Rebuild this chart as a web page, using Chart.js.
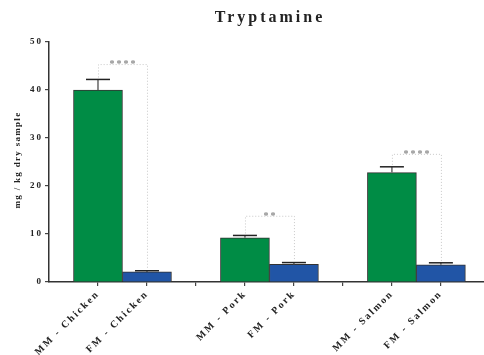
<!DOCTYPE html>
<html>
<head>
<meta charset="utf-8">
<script src="https://cdn.jsdelivr.net/npm/chart.js@4.4.1/dist/chart.umd.min.js"></script>
<style>
  html, body { margin: 0; padding: 0; background: #fff; }
  #wrap { width: 484px; height: 355px; position: relative; }
</style>
</head>
<body>
<div id="wrap"><canvas id="c"></canvas></div>
<script>
// Group labels along the x axis (empty strings are spacer slots)
const categories = ["MM - Chicken", "FM - Chicken", "", "MM - Pork", "FM - Pork", "", "MM - Salmon", "FM - Salmon"];
// Mean tryptamine content (mg/kg dry sample), null for spacer slots
const means = [40.0, 2.1, null, 9.2, 3.7, null, 22.8, 3.6];
// Standard deviation shown as upward error bars
const errors = [2.2, 0.25, null, 0.5, 0.35, null, 1.2, 0.4];
// Bar fill per slot: green for MM, blue for FM
const barColors = ["#008c45", "#2155a6", null, "#008c45", "#2155a6", null, "#008c45", "#2155a6"];
// Significance comparisons (1-based slot positions), bracket heights and marks
const bracketPairs = [[1, 2], [4, 5], [7, 8]];
const bracketLevels = [45.4, 13.8, 26.7];
const bracketMarks = ["****", "**", "****"];
const yTicks = [0, 10, 20, 30, 40, 50];

const serif = "'Liberation Serif', 'Times New Roman', serif";

const points = [];
const fills = [];
means.forEach((v, i) => {
  if (v !== null) { points.push({ x: i + 1, y: v }); fills.push(barColors[i]); }
});

const spacingPlugin = {
  id: 'spacing',
  beforeUpdate(chart) { chart.ctx.letterSpacing = '2px'; },
  beforeDraw(chart) { chart.ctx.letterSpacing = '2px'; }
};

// chart title and rotated y-axis title
const titlePlugin = {
  id: 'plotTitles',
  afterDraw(chart) {
    const ctx = chart.ctx;
    ctx.save();
    ctx.letterSpacing = '3px';
    ctx.font = "bold 16px " + serif;
    ctx.fillStyle = '#222';
    ctx.textAlign = 'center';
    ctx.textBaseline = 'alphabetic';
    ctx.fillText('Tryptamine', 270, 22);
    ctx.restore();

    ctx.save();
    ctx.letterSpacing = '1.3px';
    ctx.font = "bold 9px " + serif;
    ctx.fillStyle = '#222';
    ctx.textAlign = 'center';
    ctx.textBaseline = 'middle';
    ctx.translate(18, 160);
    ctx.rotate(-Math.PI / 2);
    ctx.fillText('mg / kg dry sample', 0, 0);
    ctx.restore();
  }
};

const errorPlugin = {
  id: 'errorBars',
  afterDatasetsDraw(chart) {
    const ctx = chart.ctx;
    const xs = chart.scales.x, ys = chart.scales.y;
    ctx.save();
    means.forEach((v, i) => {
      if (v === null) return;
      const x = xs.getPixelForValue(i + 1);
      const yTop = ys.getPixelForValue(v);
      const yErr = ys.getPixelForValue(v + errors[i]);
      ctx.strokeStyle = '#666';
      ctx.lineWidth = 1.5;
      ctx.beginPath();
      ctx.moveTo(x, yTop);
      ctx.lineTo(x, yErr);
      ctx.stroke();
      ctx.strokeStyle = '#222';
      ctx.lineWidth = 1.5;
      ctx.beginPath();
      ctx.moveTo(x - 12, yErr);
      ctx.lineTo(x + 12, yErr);
      ctx.stroke();
    });
    // significance brackets
    ctx.setLineDash([1, 2]);
    ctx.strokeStyle = '#c8c8c8';
    ctx.lineWidth = 1;
    bracketPairs.forEach((p, k) => {
      const xa = xs.getPixelForValue(p[0]);
      const xb = xs.getPixelForValue(p[1]);
      const yl = ys.getPixelForValue(bracketLevels[k]);
      const ya = ys.getPixelForValue(means[p[0] - 1] + errors[p[0] - 1]) - 2;
      const yb = ys.getPixelForValue(means[p[1] - 1] + errors[p[1] - 1]) - 2;
      ctx.beginPath();
      ctx.moveTo(xa + 0.5, ya);
      ctx.lineTo(xa + 0.5, yl + 0.5);
      ctx.lineTo(xb + 0.5, yl + 0.5);
      ctx.lineTo(xb + 0.5, yb);
      ctx.stroke();
    });
    ctx.setLineDash([]);
    ctx.fillStyle = '#888';
    ctx.font = "bold 10px " + serif;
    ctx.letterSpacing = '2px';
    ctx.textAlign = 'center';
    ctx.textBaseline = 'alphabetic';
    bracketPairs.forEach((p, k) => {
      const xm = (xs.getPixelForValue(p[0]) + xs.getPixelForValue(p[1])) / 2;
      const yl = ys.getPixelForValue(bracketLevels[k]);
      ctx.fillText(bracketMarks[k], xm + 1, yl + 3);
    });
    ctx.restore();
  }
};

new Chart(document.getElementById('c'), {
  type: 'bar',
  data: {
    datasets: [{
      data: points,
      backgroundColor: fills,
      borderColor: '#333',
      borderWidth: 1,
      barPercentage: 1,
      categoryPercentage: 1
    }]
  },
  options: {
    responsive: true,
    maintainAspectRatio: false,
    animation: false,
    layout: { padding: { top: 42, left: 0, right: 0, bottom: 0 } },
    plugins: {
      legend: { display: false },
      title: { display: false },
      tooltip: { enabled: false }
    },
    scales: {
      x: {
        type: 'linear',
        offset: false,
        min: 0,
        max: 8.88,
        grid: { offset: false, drawOnChartArea: false, drawTicks: true, tickLength: 4, color: '#444', lineWidth: 1.2 },
        border: { display: true, color: '#333', width: 1.5 },
        afterBuildTicks(scale) {
          scale.ticks = categories.map((_, i) => ({ value: i + 1 }));
        },
        afterFit(scale) {
          scale.height = 73;
          scale.paddingLeft = 0;
          scale.paddingRight = 0;
        },
        ticks: {
          autoSkip: false,
          maxRotation: 45,
          minRotation: 45,
          padding: 2,
          color: '#222',
          font: { family: serif, size: 10, weight: 'bold' },
          callback(value) { return categories[value - 1] || ''; }
        }
      },
      y: {
        min: 0,
        max: 50,
        afterBuildTicks(scale) {
          scale.ticks = yTicks.map(v => ({ value: v }));
        },
        afterFit(scale) { scale.width = 49; },
        grid: { drawOnChartArea: false, drawTicks: true, tickLength: 4, color: '#444', lineWidth: 1.2 },
        border: { display: true, color: '#333', width: 1.5 },
        ticks: {
          padding: 2,
          color: '#222',
          font: { family: serif, size: 9, weight: 'bold' }
        },
        title: { display: false }
      }
    }
  },
  plugins: [spacingPlugin, errorPlugin, titlePlugin]
});
</script>
</body>
</html>
